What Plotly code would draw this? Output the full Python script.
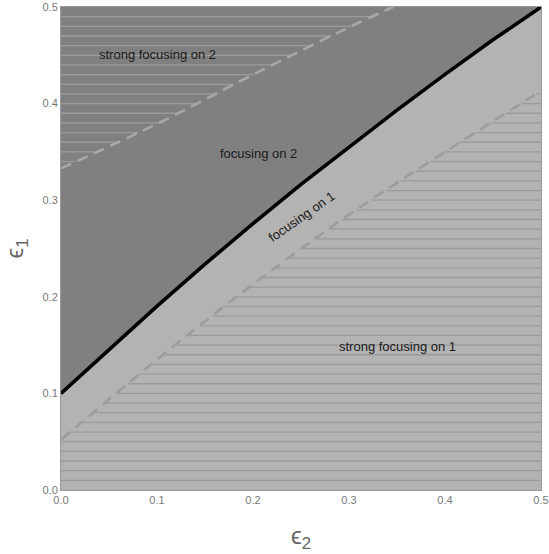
import numpy as np
import plotly.graph_objects as go

# ---- data ----
# boundary between "focusing on 2" (above) and "focusing on 1" (below)
boundary_x = [0.0, 0.05, 0.1, 0.15, 0.2, 0.25, 0.3, 0.35, 0.4, 0.45, 0.5]
boundary_y = [0.100, 0.1455, 0.1903, 0.2338, 0.2758, 0.3163, 0.3553, 0.3933, 0.4303, 0.4660, 0.500]

# upper dashed curve: strong focusing on 2 above it
strong2_x = [0.0, 0.1, 0.2, 0.3, 0.346]
strong2_y = [0.333, 0.379, 0.430, 0.479, 0.500]

# lower dashed curve: strong focusing on 1 below it
strong1_x = [0.0, 0.1, 0.2, 0.3, 0.4, 0.5]
strong1_y = [0.052, 0.135, 0.213, 0.285, 0.350, 0.413]

# horizontal hatching levels
hatch_levels = [round(0.01 * k, 2) for k in range(1, 50)]

tick_vals = [0.0, 0.1, 0.2, 0.3, 0.4, 0.5]
tick_text = ["0.0", "0.1", "0.2", "0.3", "0.4", "0.5"]
axis_range = [0.0, 0.5]

labels = ["strong focusing on 2", "focusing on 2", "focusing on 1", "strong focusing on 1"]
label_x = [0.101, 0.206, 0.251, 0.350]
label_y = [0.451, 0.348, 0.283, 0.149]
label_angle = [0, 0, -35, 0]

DARK = "#808080"
LIGHT = "#b3b3b3"
FONT = "Liberation Sans, Arial, sans-serif"

fig = go.Figure()

# dark region above the boundary
lo, hi = axis_range
fig.add_trace(go.Scatter(
    x=boundary_x + [lo],
    y=boundary_y + [hi],
    fill="toself", fillcolor=DARK, line=dict(width=0),
    mode="lines", hoverinfo="skip", showlegend=False))

# hatching in strong focusing on 2 (left of upper dashed curve)
hx, hy = [], []
for lv in hatch_levels:
    if lv > strong2_y[0] and lv < hi:
        xe = float(np.interp(lv, strong2_y, strong2_x))
        hx += [lo, xe, None]
        hy += [lv, lv, None]
fig.add_trace(go.Scatter(x=hx, y=hy, mode="lines",
                         line=dict(color="#9c9c9c", width=1.3),
                         hoverinfo="skip", showlegend=False))

# hatching in strong focusing on 1 (right of lower dashed curve)
lx, ly = [], []
for lv in hatch_levels:
    if lv < strong1_y[-1]:
        if lv <= strong1_y[0]:
            xs = lo
        else:
            xs = float(np.interp(lv, strong1_y, strong1_x))
        lx += [xs, hi, None]
        ly += [lv, lv, None]
fig.add_trace(go.Scatter(x=lx, y=ly, mode="lines",
                         line=dict(color="#9a9a9a", width=1.3),
                         hoverinfo="skip", showlegend=False))

# dashed curves
fig.add_trace(go.Scatter(x=strong2_x, y=strong2_y, mode="lines",
                         line=dict(color="#a8a8a8", width=2.6, dash="11px,7px", shape="spline"),
                         hoverinfo="skip", showlegend=False))
fig.add_trace(go.Scatter(x=strong1_x, y=strong1_y, mode="lines",
                         line=dict(color="#9c9c9c", width=2.6, dash="11px,7px", shape="spline"),
                         hoverinfo="skip", showlegend=False))

# boundary
fig.add_trace(go.Scatter(x=boundary_x, y=boundary_y, mode="lines",
                         line=dict(color="black", width=3.6),
                         hoverinfo="skip", showlegend=False))

for t, x, y, a in zip(labels, label_x, label_y, label_angle):
    fig.add_annotation(x=x, y=y, text=t, showarrow=False, textangle=a,
                       font=dict(family=FONT, size=13, color="#1a1a1a"))

axis_common = dict(
    range=axis_range, tickvals=tick_vals, ticktext=tick_text,
    showgrid=False, zeroline=False, showline=True, mirror=True,
    linecolor="#999999", linewidth=1, ticks="", automargin=False,
    tickfont=dict(family=FONT, size=11, color="#777777"),
)

fig.update_layout(
    width=549, height=554,
    margin=dict(l=61, r=8, t=7, b=64),
    paper_bgcolor="white", plot_bgcolor=LIGHT,
    xaxis=dict(**axis_common,
               title=dict(text="ϵ<sub>2</sub>", standoff=21,
                          font=dict(family=FONT, size=24, color="#666666"))),
    yaxis=dict(**axis_common,
               title=dict(text="ϵ<sub>1</sub>", standoff=12,
                          font=dict(family=FONT, size=24, color="#666666"))),
)

fig.write_html("out.html", config={"displayModeBar": False},
               post_script="document.body.style.margin='0px';")
